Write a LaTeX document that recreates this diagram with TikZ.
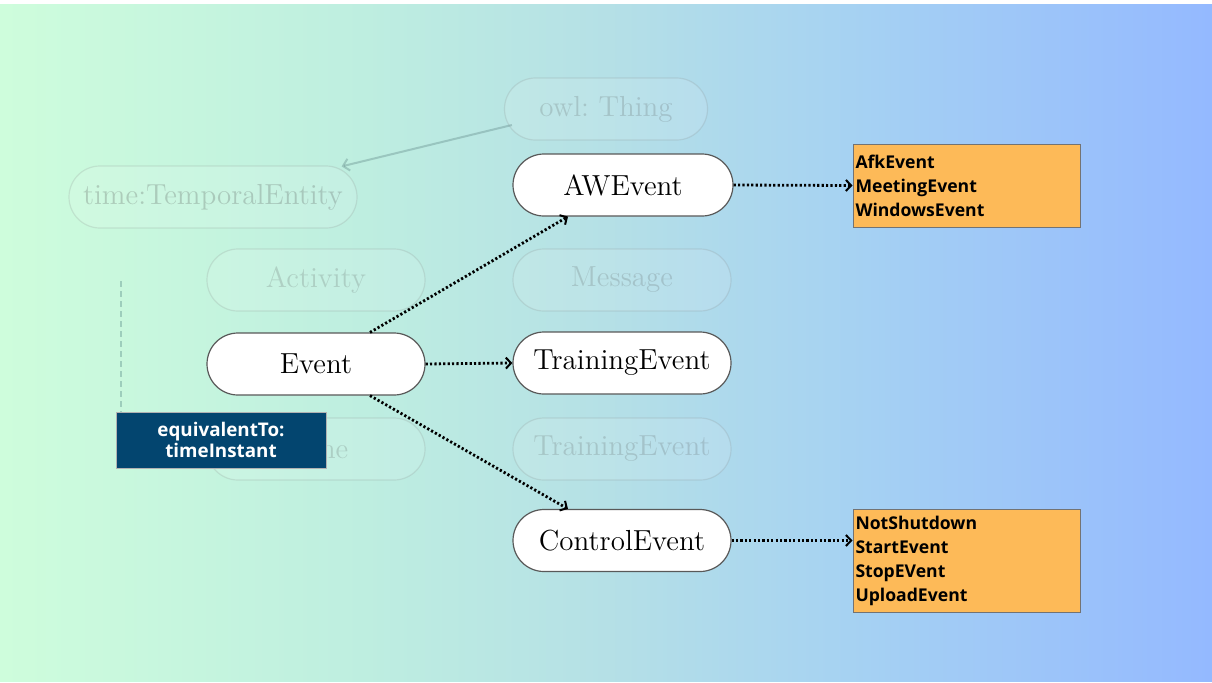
\documentclass[tikz,border=0pt]{standalone}
\usepackage{fontspec}
\newfontfamily\boxfont{Open Sans}
\usetikzlibrary{arrows.meta}
\definecolor{bgA}{RGB}{206,253,220}
\definecolor{bgB}{RGB}{190,238,224}
\definecolor{bgC}{RGB}{181,224,230}
\definecolor{bgD}{RGB}{166,210,242}
\definecolor{bgE}{RGB}{148,185,255}
\definecolor{navy}{RGB}{3,69,111}
\definecolor{orangebox}{RGB}{253,186,88}
\pgfdeclarehorizontalshading{bgshade}{100bp}{color(0bp)=(bgA); color(25bp)=(bgA); color(40bp)=(bgB); color(50bp)=(bgC); color(60bp)=(bgD); color(75bp)=(bgE); color(100bp)=(bgE)}
\tikzset{
  classnode/.style={rectangle, rounded corners=15.5pt, draw=black!65, line width=0.6pt, fill=white,
    minimum width=109pt, minimum height=31pt, inner sep=0pt, font=\fontsize{14.5}{17}\selectfont},
  fadednode/.style={rectangle, rounded corners=15.5pt, draw=gray, draw opacity=0.18, line width=0.6pt,
    fill=white, fill opacity=0.1, text=black!70, text opacity=0.2,
    minimum width=109pt, minimum height=31pt, inner sep=0pt, font=\fontsize{14.5}{17}\selectfont},
  listbox/.style={rectangle, draw=black!55, line width=0.5pt, fill=orangebox, minimum width=113.5pt,
    text width=111pt, inner xsep=1pt, inner ysep=0pt, align=left,
    font=\boxfont\bfseries\fontsize{8.8}{12}\selectfont},
  eqbox/.style={rectangle, draw=black!30, line width=0.4pt, fill=navy, text=white, minimum width=105pt,
    minimum height=28pt, inner sep=0pt, align=center, font=\boxfont\bfseries\fontsize{9.4}{10.5}\selectfont},
  dotarrow/.style={line width=1.4pt, dash pattern=on 1.1pt off 1.1pt,
    -{Straight Barb[length=2.6pt,width=5.5pt,line width=1pt]}},
}
\begin{document}
\begin{tikzpicture}[x=0.5pt,y=-0.5pt]
\fill[white] (0,0) rectangle (1212,682);
\shade[shading=bgshade] (0,4) rectangle (1212,681);
\useasboundingbox (0,0) rectangle (1212,682);
% faded background nodes
\node[fadednode, minimum width=101.5pt] (owl) at (606,109) {owl:\ Thing};
\node[fadednode, minimum width=144pt, text opacity=0.25] (tem) at (213,197) {time:TemporalEntity};
\node[fadednode] (act) at (316,280) {Activity};
\node[fadednode] (msg) at (622,280) {Message};
\node[fadednode] (tim) at (316,449) {Time};
\node[fadednode] (tr2) at (622,449) {TrainingEvent};
\draw[draw=gray!70!teal, draw opacity=0.35, line width=1pt, -{Straight Barb[length=3pt,width=6pt]}]
  ([xshift=4pt,yshift=-8pt]owl.west) -- ([xshift=-8pt,yshift=-0.5pt]tem.north east);
% main nodes
\node[classnode] (ev) at (316,364) {Event};
\node[classnode, minimum width=110pt] (aw) at (623,185) {AWEvent};
\node[classnode] (tr) at (622,363) {TrainingEvent};
\node[classnode] (ce) at (622,540.5) {ControlEvent};
\node[listbox, minimum height=41.5pt] (b1) at (966.5,185.5) {AfkEvent\\MeetingEvent\\WindowsEvent};
\node[listbox, minimum height=51.5pt] (b2) at (966.5,560.5) {NotShutdown\\StartEvent\\StopEVent\\UploadEvent};
\node[eqbox] (eq) at (221,440) {equivalentTo:\\timeInstant};
\coordinate (dtop) at (121,281);
\draw[draw=gray!60!teal, draw opacity=0.35, line width=1pt, dash pattern=on 3pt off 2pt]
  (dtop) -- (dtop |- eq.north);
% connectors
\draw[dotarrow] ([xshift=27pt]ev.north) -- ([xshift=-27.5pt]aw.south);
\draw[dotarrow] (ev.east) -- (tr.west);
\draw[dotarrow] ([xshift=27pt]ev.south) -- ([xshift=-27pt]ce.north);
\draw[dotarrow] (aw.east) -- (b1.west);
\draw[dotarrow] (ce.east) -- (ce.east -| b2.west);
\end{tikzpicture}
\end{document}
